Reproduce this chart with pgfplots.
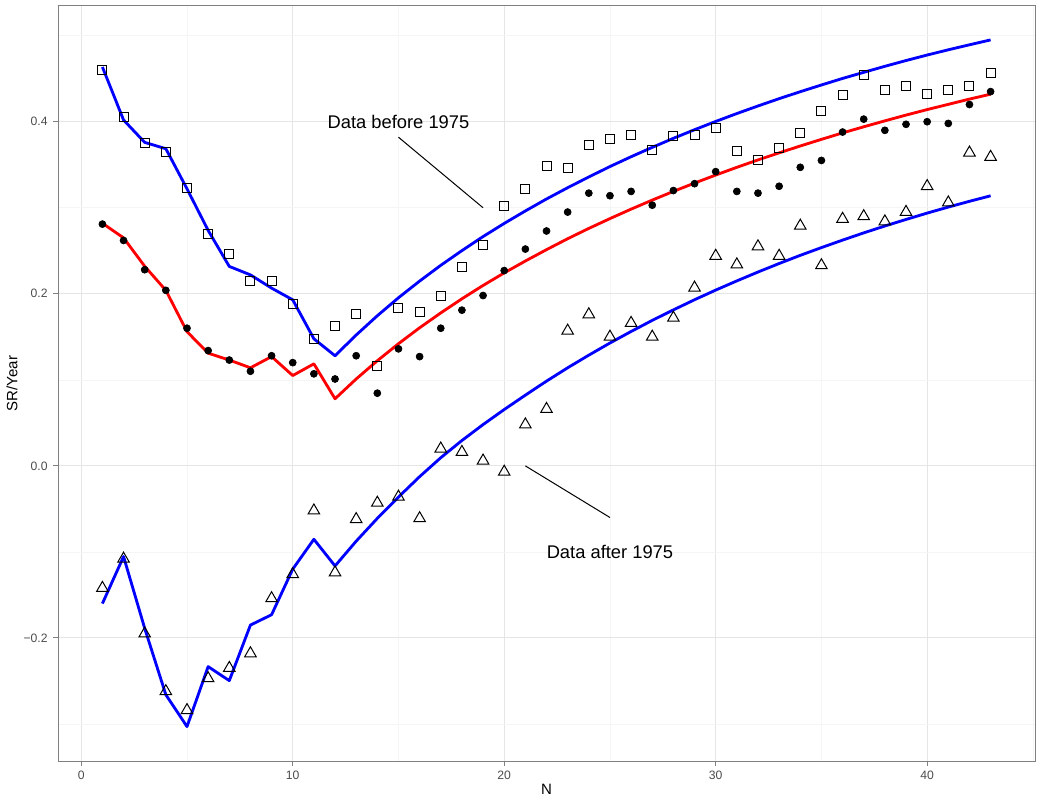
\documentclass[border=0pt]{standalone}
\usepackage{fontspec}
\setmainfont{Liberation Sans}
\usepackage{pgfplots}
\pgfplotsset{compat=1.18}
\usepackage{pgfplotstable}

\definecolor{panelgrey}{gray}{0.5}
\definecolor{ticktext}{gray}{0.30}
\definecolor{gridmajor}{gray}{0.90}
\definecolor{gridminor}{gray}{0.96}

% observed Sharpe ratio per year, data before 1975
\pgfplotstableread{
N SR
1 0.460
2 0.406
3 0.375
4 0.365
5 0.323
6 0.270
7 0.246
8 0.215
9 0.215
10 0.188
11 0.147
12 0.163
13 0.177
14 0.116
15 0.183
16 0.179
17 0.198
18 0.231
19 0.257
20 0.302
21 0.322
22 0.349
23 0.346
24 0.373
25 0.380
26 0.385
27 0.367
28 0.383
29 0.385
30 0.393
31 0.366
32 0.356
33 0.370
34 0.387
35 0.412
36 0.431
37 0.454
38 0.437
39 0.441
40 0.432
41 0.437
42 0.442
43 0.457
}\before

% full sample
\pgfplotstableread{
N SR
1 0.281
2 0.262
3 0.228
4 0.204
5 0.160
6 0.134
7 0.123
8 0.110
9 0.128
10 0.120
11 0.107
12 0.101
13 0.128
14 0.0845
15 0.136
16 0.127
17 0.160
18 0.181
19 0.198
20 0.227
21 0.252
22 0.273
23 0.295
24 0.317
25 0.314
26 0.319
27 0.303
28 0.320
29 0.328
30 0.342
31 0.319
32 0.317
33 0.325
34 0.347
35 0.355
36 0.388
37 0.403
38 0.390
39 0.397
40 0.400
41 0.398
42 0.420
43 0.435
}\allyears

% data after 1975
\pgfplotstableread{
N SR
1 -0.142
2 -0.108
3 -0.195
4 -0.262
5 -0.284
6 -0.247
7 -0.235
8 -0.218
9 -0.154
10 -0.126
11 -0.052
12 -0.124
13 -0.062
14 -0.043
15 -0.036
16 -0.061
17 0.020
18 0.016
19 0.006
20 -0.007
21 0.048
22 0.066
23 0.157
24 0.176
25 0.150
26 0.166
27 0.150
28 0.172
29 0.207
30 0.244
31 0.234
32 0.255
33 0.244
34 0.279
35 0.233
36 0.287
37 0.290
38 0.284
39 0.295
40 0.325
41 0.306
42 0.364
43 0.359
}\after

% fitted curves
\pgfplotstableread{
N fit
1 0.4636
2 0.402
3 0.376
4 0.3686
5 0.322
6 0.2737
7 0.2318
8 0.222
9 0.2066
10 0.193
11 0.1477
12 0.128
13 0.1521
14 0.1745
15 0.1954
16 0.2148
17 0.2331
18 0.2502
19 0.2665
20 0.2818
21 0.2963
22 0.3102
23 0.3233
24 0.3358
25 0.3479
26 0.3593
27 0.3702
28 0.3807
29 0.3907
30 0.4003
31 0.4095
32 0.4183
33 0.4268
34 0.4349
35 0.4427
36 0.4503
37 0.4574
38 0.4644
39 0.4711
40 0.4775
41 0.4836
42 0.4894
43 0.4951
}\fitbefore

\pgfplotstableread{
N fit
1 0.282
2 0.265
3 0.232
4 0.204
5 0.156
6 0.131
7 0.123
8 0.114
9 0.127
10 0.105
11 0.1186
12 0.078
13 0.1010
14 0.1222
15 0.1420
16 0.1605
17 0.1778
18 0.1942
19 0.2097
20 0.2243
21 0.2381
22 0.2513
23 0.2640
24 0.2760
25 0.2874
26 0.2984
27 0.3089
28 0.3190
29 0.3287
30 0.3380
31 0.3470
32 0.3556
33 0.3638
34 0.3718
35 0.3795
36 0.3870
37 0.3941
38 0.4010
39 0.4077
40 0.4141
41 0.4202
42 0.4263
43 0.4320
}\fitall

\pgfplotstableread{
N fit
1 -0.160
2 -0.1054
3 -0.1888
4 -0.266
5 -0.303
6 -0.2333
7 -0.2496
8 -0.185
9 -0.173
10 -0.120
11 -0.0853
12 -0.1163
13 -0.0875
14 -0.0610
15 -0.0362
16 -0.0125
17 0.0095
18 0.0295
19 0.0480
20 0.0655
21 0.0822
22 0.0985
23 0.1140
24 0.1287
25 0.1428
26 0.1562
27 0.1691
28 0.1813
29 0.1931
30 0.2043
31 0.2150
32 0.2253
33 0.2352
34 0.2447
35 0.2537
36 0.2624
37 0.2708
38 0.2788
39 0.2864
40 0.2938
41 0.3008
42 0.3075
43 0.3139
}\fitafter

\begin{document}
\begin{tikzpicture}[x=1pt,y=1pt]
\useasboundingbox (-34.8,-24.6) rectangle (590.4,456.6);
\begin{axis}[
  at={(0,0)}, anchor=south west,
  scale only axis, width=586.2pt, height=453pt,
  xmin=-1.1, xmax=45.1, ymin=-0.343, ymax=0.5345,
  axis line style={panelgrey, line width=0.6pt},
  xtick={0,10,20,30,40},
  minor xtick={5,15,25,35,45},
  ytick={-0.2,0,0.2,0.4},
  yticklabels={−0.2,0.0,0.2,0.4},
  minor ytick={-0.3,-0.1,0.1,0.3,0.5},
  grid=both,
  major grid style={gridmajor, line width=0.6pt},
  minor grid style={gridminor, line width=0.4pt},
  tick align=outside, xtick pos=lower, ytick pos=left,
  major tick length=2.7pt, minor tick length=0pt,
  every tick/.style={panelgrey, line width=0.6pt},
  /pgf/number format/assume math mode=true,
  ticklabel style={font=\fontsize{7.3}{8.5}\selectfont, text=ticktext},
  xlabel={N}, ylabel={SR/Year},
  label style={font=\fontsize{9}{10}\selectfont},
  xlabel style={at={(axis description cs:0.5,-0.0371)}, anchor=center},
  ylabel style={at={(axis description cs:-0.0471,0.5)}, anchor=center},
  clip=false,
]
\addplot[only marks, mark=square, mark size=2.7pt, mark options={draw=black, fill=none, line width=0.6pt}] table[x=N, y=SR] {\before};
\addplot[only marks, mark=*, mark size=2.1pt, mark options={draw=black, fill=black}] table[x=N, y=SR] {\allyears};
\addplot[only marks, mark=triangle, mark size=4pt, mark options={draw=black, fill=none, line width=0.6pt}] table[x=N, y=SR] {\after};

\addplot[no marks, blue, line width=1.7pt, line join=round] table[x=N, y=fit] {\fitbefore};
\addplot[no marks, red, line width=1.7pt, line join=round] table[x=N, y=fit] {\fitall};
\addplot[no marks, blue, line width=1.7pt, line join=round] table[x=N, y=fit] {\fitafter};

\node[font=\fontsize{11}{13}\selectfont] at (axis cs:15,0.4) {Data before 1975};
\draw[black, line width=0.6pt] (axis cs:15,0.382) -- (axis cs:19,0.30);
\node[font=\fontsize{11}{13}\selectfont] at (axis cs:25,-0.1) {Data after 1975};
\draw[black, line width=0.6pt] (axis cs:21,0) -- (axis cs:25,-0.06);
\end{axis}
\end{tikzpicture}
\end{document}
